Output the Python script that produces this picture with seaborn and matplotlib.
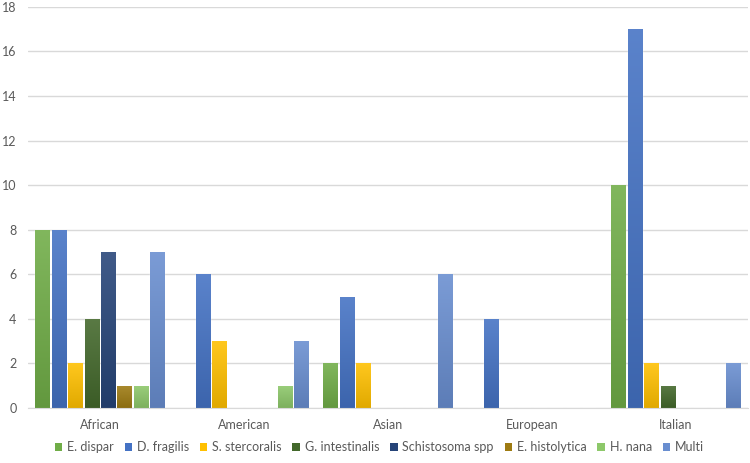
import numpy as np
import pandas as pd
import matplotlib
matplotlib.use("Agg")
import matplotlib.pyplot as plt
import matplotlib.colors as mcolors
from matplotlib.patches import Patch
import seaborn as sns

groups = ["African", "American", "Asian", "European", "Italian"]
series = ["E. dispar", "D. fragilis", "S. stercoralis", "G. intestinalis",
          "Schistosoma spp", "E. histolytica", "H. nana", "Multi"]
e_dispar = [8, 0, 2, 0, 10]
d_fragilis = [8, 6, 5, 4, 17]
s_stercoralis = [2, 3, 2, 0, 2]
g_intestinalis = [4, 0, 0, 0, 1]
schistosoma = [7, 0, 0, 0, 0]
e_histolytica = [1, 0, 0, 0, 0]
h_nana = [1, 1, 0, 0, 0]
multi = [7, 3, 6, 0, 2]
colors = ["#70AD47", "#4472C4", "#FFC000", "#43682B",
          "#264478", "#9E7B12", "#8DC86A", "#698ED0"]
yticks = [0, 2, 4, 6, 8, 10, 12, 14, 16, 18]

values = [e_dispar, d_fragilis, s_stercoralis, g_intestinalis,
          schistosoma, e_histolytica, h_nana, multi]
rows = []
for s, vals in zip(series, values):
    for g, v in zip(groups, vals):
        rows.append({"group": g, "series": s, "value": v})
df = pd.DataFrame(rows)

sns.set_style("white")
plt.rcParams["font.family"] = ["Lato", "DejaVu Sans"]

fig = plt.figure(figsize=(7.5, 4.63), dpi=100)
ax = fig.add_axes([0.037, 0.119, 0.96, 0.866])

sns.barplot(data=df, x="group", y="value", hue="series", order=groups,
            hue_order=series, palette=colors, width=0.91, gap=0.14,
            saturation=1, ax=ax, legend=False, errorbar=None)

# gradient fill (Excel-like)
grad = np.linspace(0, 1, 256).reshape(-1, 1)
for p in list(ax.patches):
    h = p.get_height()
    if h <= 0:
        continue
    fc = np.array(mcolors.to_rgb(p.get_facecolor()))
    top = fc + (1 - fc) * 0.12
    bot = fc * 0.88
    img = np.zeros((256, 1, 3))
    for i in range(3):
        img[:, 0, i] = top[i] + (bot[i] - top[i]) * grad[:, 0]
    x0 = p.get_x(); w = p.get_width(); y0 = p.get_y()
    im = ax.imshow(img, extent=[x0, x0 + w, y0, y0 + h], aspect="auto",
                   zorder=p.get_zorder(), origin="upper")
    im.set_clip_path(p)
    p.set_facecolor("none")

ax.set_xlim(-0.5, 4.5)
ax.set_ylim(0, 18)
ax.set_yticks(yticks)
ax.grid(axis="y", color="#D9D9D9", linewidth=1)
ax.set_axisbelow(True)
for s in ["left", "right", "top"]:
    ax.spines[s].set_visible(False)
ax.spines["bottom"].set_color("#D9D9D9")
ax.tick_params(axis="both", length=0, labelsize=9, labelcolor="#595959")
ax.tick_params(axis="x", pad=8)
ax.tick_params(axis="y", pad=8)
ax.set_xlabel("")
ax.set_ylabel("")

handles = [Patch(facecolor=c, edgecolor="none") for c in colors]
fig.legend(handles, series, loc="center", bbox_to_anchor=(0.506, 0.034),
           ncol=8, frameon=False, fontsize=9, handlelength=0.6,
           handleheight=0.6, handletextpad=0.4, columnspacing=0.85,
           labelcolor="#595959")

fig.savefig("out.png", dpi=100)
